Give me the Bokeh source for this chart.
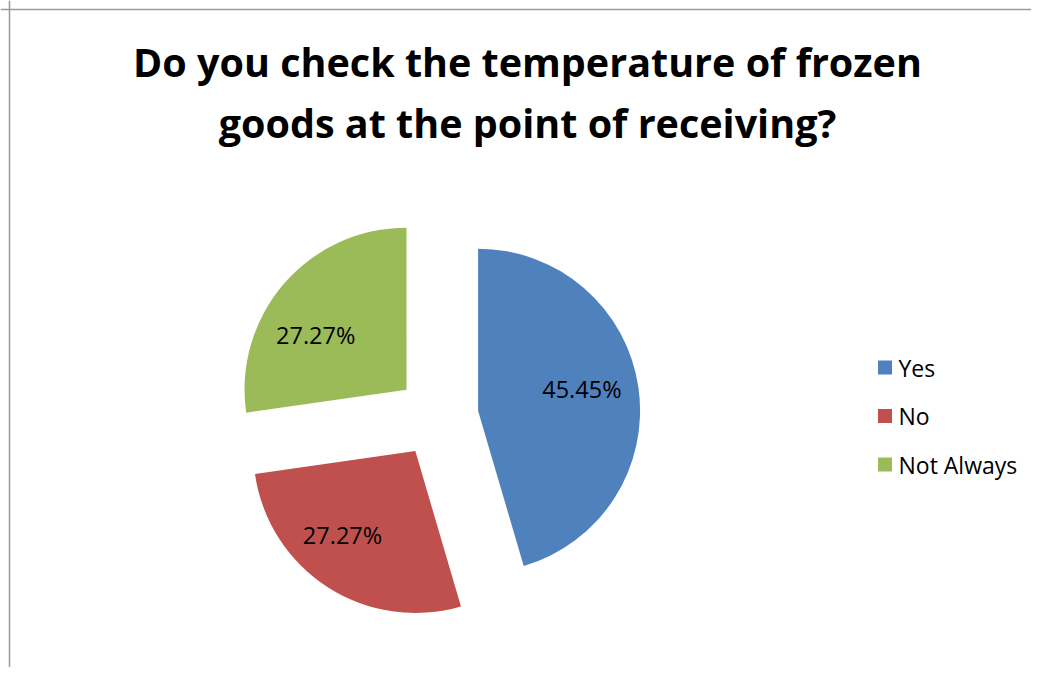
import math
from bokeh.plotting import figure
from bokeh.models import Range1d, Span, ColumnDataSource
from bokeh.core.properties import value
from bokeh.embed import file_html
from bokeh.resources import INLINE

# ---- data ----
categories = ["Yes", "No", "Not Always"]
values = [45.45, 27.27, 27.27]
colors = ["#4F81BD", "#C0504D", "#9BBB59"]
title_lines = ["Do you check the temperature of frozen", "goods at the point of receiving?"]

# label placement nudges (layout only, px)
label_nudge_x = [-2, -15, -10]
label_nudge_y = [6, 6, -15]

W, H = 1031, 667
# data coords: x = screenshot px, y = 675 - screenshot py
p = figure(width=W, height=H, output_backend="svg", toolbar_location=None,
           x_range=Range1d(0, W), y_range=Range1d(675 - H, 675),
           min_border=0, outline_line_color=None)
p.axis.visible = False
p.grid.visible = False
p.background_fill_color = "white"
p.border_fill_color = "white"

# chart border (top and left visible)
p.add_layout(Span(location=9, dimension="height", line_color="#9a9a9a", line_width=1.5))
p.add_layout(Span(location=675 - 9, dimension="width", line_color="#9a9a9a", line_width=1.5))

# ---- pie geometry ----
cx, cy = 437, 675 - 416
R = 162
explode = 41
total = sum(values)
starts, ends, xs, ys, lx, ly, labels = [], [], [], [], [], [], []
acc = 0.0
for i, v in enumerate(values):
    t0 = acc / total * 2 * math.pi          # clockwise from top
    t1 = (acc + v) / total * 2 * math.pi
    acc += v
    tm = (t0 + t1) / 2
    a_mid = math.pi / 2 - tm
    ox = cx + explode * math.cos(a_mid)
    oy = cy + explode * math.sin(a_mid)
    xs.append(ox); ys.append(oy)
    starts.append(math.pi / 2 - t1)
    ends.append(math.pi / 2 - t0)
    lx.append(ox + 0.66 * R * math.cos(a_mid) + label_nudge_x[i])
    ly.append(oy + 0.66 * R * math.sin(a_mid) + label_nudge_y[i])
    labels.append(f"{v:.2f}%")

src = ColumnDataSource(dict(x=xs, y=ys, start=starts, end=ends, color=colors,
                            lx=lx, ly=ly, label=labels, cat=categories))
p.wedge(x="x", y="y", radius=R, start_angle="start", end_angle="end",
        fill_color="color", line_color=None, source=src)
p.text(x="lx", y="ly", text="label", source=src, text_font=value("Open Sans"),
       text_font_size="23.5px", text_align="center", text_baseline="middle",
       text_color="black")

# ---- title ----
p.text(x=[527, 527], y=[675 - 61, 675 - 122], text=title_lines,
       text_font=value("Open Sans"), text_font_style="bold", text_font_size="39.5px",
       text_align="center", text_baseline="alphabetic", text_color="black")

# ---- legend ----
leg_y = [675 - (367 + i * 48.5) for i in range(len(categories))]
leg = ColumnDataSource(dict(y=leg_y, color=colors, cat=categories))
p.rect(x=884.5, y="y", width=14, height=14, fill_color="color", line_color=None, source=leg)
p.text(x=898, y="y", text="cat", source=leg, text_font=value("Open Sans"),
       text_font_size="23px", text_align="left", text_baseline="middle",
       text_color="black")

open("out.html", "w").write(file_html(p, INLINE))
